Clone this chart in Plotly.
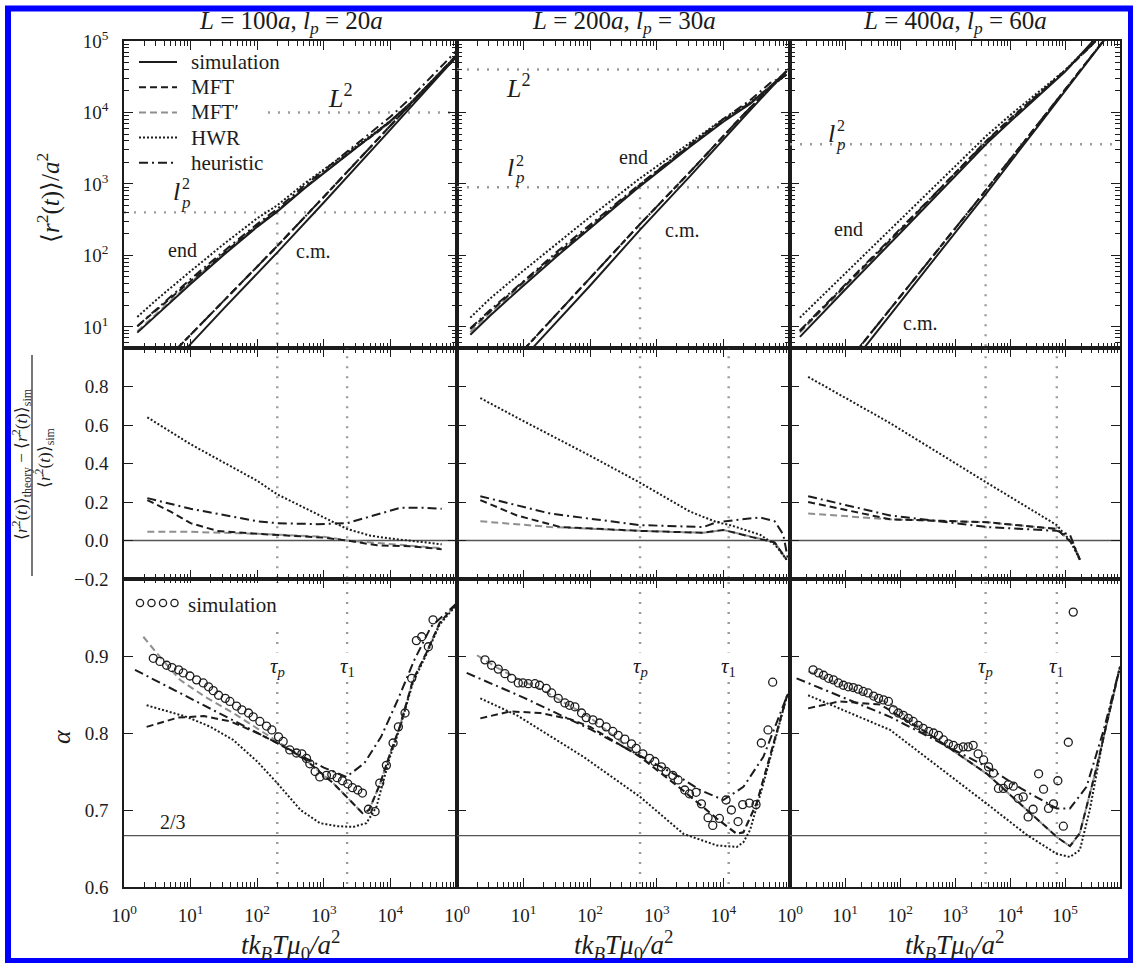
import numpy as np
import plotly.graph_objects as go
from plotly.subplots import make_subplots

W, H = 1133, 963
ML, MR, MT, MB = 124, 13, 41, 76

SERIF = "Liberation Serif"
INK = "#1c1c1c"
GREY = "#8f8f8f"
REF = "#9a9a9a"

# ---------------- panel parameters (units of a, k_B T mu_0 / a^2) ----------------
chain_L = [100, 200, 400]
persist_lp = [20, 30, 60]
tau_p = [200, 560, 3600]
tau_1 = [2240, 12000, 71000]

# ---------------- top row: mean-square displacement, log10 values ----------------
# column 1 (L = 100a)
end1_lt = [0.2, 0.5, 1.0, 1.5, 2.0, 2.3, 2.7, 3.0, 3.5, 3.8, 4.0, 4.3, 4.6, 5.0]
end1_sim = [0.92, 1.18, 1.60, 2.01, 2.40, 2.61, 2.93, 3.15, 3.52, 3.73, 3.88, 4.13, 4.42, 4.80]
end1_mft = [1.01, 1.25, 1.64, 2.03, 2.42, 2.62, 2.94, 3.16, 3.52, 3.72, 3.87, 4.12, 4.40, 4.78]
end1_mftp = [0.94, 1.20, 1.62, 2.03, 2.42, 2.62, 2.94, 3.16, 3.52, 3.72, 3.87, 4.12, 4.41, 4.78]
end1_hwr = [1.14, 1.39, 1.78, 2.16, 2.52, 2.70, 3.00, 3.20, 3.54, 3.74, 3.88, 4.13, 4.42, 4.79]
end1_heur = [1.01, 1.26, 1.67, 2.06, 2.44, 2.65, 2.97, 3.19, 3.57, 3.79, 3.94, 4.20, 4.49, 4.87]
cm1_sim_lt = [0.96, 1.5, 2.3, 3.0, 4.0, 5.0]
cm1_sim = [0.72, 1.26, 2.04, 2.74, 3.76, 4.79]
cm1_th_lt = [0.8, 1.5, 2.3, 3.0, 4.0, 5.0]
cm1_th = [0.70, 1.37, 2.13, 2.82, 3.82, 4.81]

# column 2 (L = 200a)
end2_lt = [0.2, 0.5, 1.0, 1.5, 2.0, 2.75, 3.5, 4.0, 4.4, 4.7, 4.95]
end2_sim = [0.89, 1.16, 1.58, 1.99, 2.38, 2.97, 3.52, 3.87, 4.12, 4.36, 4.58]
end2_mft = [0.97, 1.22, 1.63, 2.02, 2.40, 2.99, 3.54, 3.89, 4.13, 4.36, 4.53]
end2_mftp = [0.93, 1.20, 1.61, 2.02, 2.40, 2.99, 3.54, 3.89, 4.13, 4.36, 4.53]
end2_hwr = [1.13, 1.40, 1.79, 2.17, 2.54, 3.08, 3.58, 3.91, 4.14, 4.36, 4.53]
end2_heur = [0.98, 1.24, 1.64, 2.05, 2.43, 3.00, 3.55, 3.91, 4.17, 4.41, 4.53]
cm2_sim_lt = [1.15, 2.0, 2.75, 3.5, 4.3, 4.95]
cm2_sim = [0.72, 1.58, 2.36, 3.11, 3.93, 4.58]
cm2_th_lt = [1.0, 2.0, 2.75, 3.5, 4.3, 4.95]
cm2_th = [0.68, 1.68, 2.44, 3.17, 3.97, 4.58]

# column 3 (L = 400a)
end3_lt = [0.18, 0.5, 1.0, 2.0, 3.0, 3.58, 4.0, 4.67, 5.0, 5.51, 5.8]
end3_sim = [0.86, 1.12, 1.52, 2.31, 3.11, 3.57, 3.87, 4.33, 4.57, 5.00, 5.25]
end3_mft = [0.94, 1.19, 1.58, 2.35, 3.15, 3.61, 3.91, 4.36, 4.58, 4.96, 5.21]
end3_mftp = [0.92, 1.17, 1.57, 2.35, 3.15, 3.61, 3.91, 4.36, 4.58, 4.96, 5.21]
end3_hwr = [1.13, 1.37, 1.75, 2.50, 3.25, 3.68, 3.96, 4.38, 4.59, 4.98, 5.22]
end3_heur = [0.95, 1.20, 1.59, 2.36, 3.15, 3.60, 3.90, 4.35, 4.59, 4.96, 5.21]
cm3_sim_lt = [1.3, 2.5, 3.58, 4.5, 5.2, 5.8]
cm3_sim = [0.66, 1.82, 2.88, 3.80, 4.50, 5.10]
cm3_th_lt = [1.1, 2.5, 3.58, 4.5, 5.2, 5.8]
cm3_th = [0.56, 1.90, 2.93, 3.83, 4.52, 5.10]

# ---------------- middle row: relative deviation from simulation ----------------
dev1_hwr_lt = [0.35, 1.0, 2.0, 2.3, 3.0, 3.35, 3.7, 4.0, 4.4, 4.77]
dev1_hwr = [0.64, 0.50, 0.31, 0.24, 0.12, 0.06, 0.025, 0.01, -0.005, -0.02]
dev1_mft_lt = [0.35, 0.7, 1.0, 1.4, 2.0, 2.3, 3.0, 3.35, 3.8, 4.3, 4.77]
dev1_mft = [0.21, 0.15, 0.09, 0.05, 0.035, 0.03, 0.015, 0.0, -0.025, -0.03, -0.045]
dev1_mftp_lt = [0.35, 1.0, 2.0, 3.0, 3.35, 4.0, 4.77]
dev1_mftp = [0.045, 0.045, 0.035, 0.02, 0.0, -0.02, -0.04]
dev1_heur_lt = [0.35, 1.0, 2.0, 2.3, 2.9, 3.35, 3.65, 4.15, 4.5, 4.77]
dev1_heur = [0.22, 0.165, 0.10, 0.09, 0.085, 0.09, 0.12, 0.17, 0.17, 0.165]

dev2_hwr_lt = [0.35, 1.0, 2.0, 2.75, 3.5, 3.9, 4.1, 4.55, 4.77, 4.95]
dev2_hwr = [0.74, 0.62, 0.44, 0.30, 0.15, 0.095, 0.08, 0.03, -0.02, -0.10]
dev2_mft_lt = [0.35, 0.9, 1.55, 2.75, 3.7, 4.0, 4.4, 4.77, 4.95]
dev2_mft = [0.21, 0.13, 0.07, 0.05, 0.04, 0.055, 0.02, -0.01, -0.10]
dev2_mftp_lt = [0.35, 1.4, 2.75, 3.7, 4.0, 4.4, 4.77, 4.95]
dev2_mftp = [0.10, 0.07, 0.05, 0.04, 0.055, 0.02, -0.01, -0.10]
dev2_heur_lt = [0.35, 1.4, 2.75, 3.7, 3.9, 4.55, 4.77, 4.9, 4.97]
dev2_heur = [0.23, 0.14, 0.08, 0.07, 0.095, 0.12, 0.10, 0.03, -0.10]

dev3_hwr_lt = [0.33, 1.82, 3.58, 4.85, 5.09, 5.27]
dev3_hwr = [0.85, 0.61, 0.30, 0.08, 0.0, -0.10]
dev3_mft_lt = [0.33, 1.82, 3.58, 4.85, 5.15, 5.27]
dev3_mft = [0.20, 0.11, 0.095, 0.06, -0.02, -0.10]
dev3_mftp_lt = [0.33, 1.82, 3.58, 4.85, 5.15, 5.27]
dev3_mftp = [0.14, 0.11, 0.095, 0.06, -0.02, -0.10]
dev3_heur_lt = [0.33, 1.82, 3.58, 4.85, 5.09, 5.27]
dev3_heur = [0.23, 0.13, 0.07, 0.05, 0.03, -0.10]

# ---------------- bottom row: local exponent alpha ----------------
a1_sim_lt = [0.44, 0.54, 0.64, 0.72, 0.82, 0.89, 0.99, 1.09, 1.19, 1.27,
             1.34, 1.42, 1.52, 1.59, 1.69, 1.77, 1.87, 1.94, 2.04, 2.14,
             2.22, 2.32, 2.39, 2.49, 2.59, 2.67, 2.74, 2.79, 2.87, 2.94,
             3.04, 3.12, 3.20, 3.28, 3.36, 3.43, 3.51, 3.58, 3.67, 3.77,
             3.84, 3.94, 4.04, 4.12, 4.22, 4.32, 4.39, 4.47, 4.57, 4.64]
a1_sim = [0.897, 0.893, 0.888, 0.885, 0.882, 0.878, 0.874, 0.869, 0.865, 0.860,
          0.855, 0.849, 0.845, 0.841, 0.835, 0.830, 0.826, 0.821, 0.815, 0.809,
          0.804, 0.795, 0.789, 0.778, 0.774, 0.773, 0.767, 0.760, 0.750, 0.743,
          0.745, 0.746, 0.742, 0.738, 0.734, 0.729, 0.726, 0.722, 0.701, 0.698,
          0.735, 0.758, 0.787, 0.808, 0.826, 0.871, 0.920, 0.925, 0.912, 0.947]
a1_mftp_lt = [0.29, 0.48, 0.84, 1.2, 1.64, 2.0, 2.3, 2.7, 3.14, 3.4, 3.58, 3.68,
              3.84, 3.99, 4.14, 4.34, 4.54, 4.74, 4.99]
a1_mftp = [0.925, 0.905, 0.869, 0.848, 0.826, 0.806, 0.790, 0.767, 0.735, 0.712, 0.696, 0.700,
           0.733, 0.772, 0.808, 0.869, 0.904, 0.943, 0.968]
a1_mft_lt = [0.34, 0.81, 1.2, 1.6, 2.0, 2.3, 2.7, 3.14, 3.4, 3.58, 3.68, 3.84, 3.99,
             4.14, 4.34, 4.54, 4.74, 4.99]
a1_mft = [0.808, 0.820, 0.822, 0.815, 0.800, 0.787, 0.767, 0.735, 0.712, 0.696, 0.700, 0.733,
          0.772, 0.808, 0.869, 0.904, 0.943, 0.968]
a1_heur_lt = [0.165, 1.0, 2.3, 3.0, 3.34, 3.61, 3.86, 4.11, 4.36, 4.61, 4.99]
a1_heur = [0.882, 0.845, 0.787, 0.755, 0.743, 0.761, 0.795, 0.843, 0.895, 0.938, 0.968]
a1_hwr_lt = [0.34, 0.94, 1.3, 1.64, 2.0, 2.3, 2.65, 2.94, 3.2, 3.44, 3.64, 3.79, 3.99, 4.14,
             4.34, 4.54, 4.74, 4.99]
a1_hwr = [0.836, 0.821, 0.808, 0.791, 0.763, 0.735, 0.700, 0.683, 0.679, 0.678, 0.683, 0.704,
          0.768, 0.806, 0.866, 0.902, 0.941, 0.966]

a2_sim_lt = [0.42, 0.52, 0.62, 0.72, 0.82, 0.92, 0.99, 1.07, 1.17, 1.24,
             1.34, 1.42, 1.52, 1.62, 1.69, 1.77, 1.87, 1.94, 2.04, 2.14,
             2.24, 2.34, 2.42, 2.52, 2.62, 2.69, 2.79, 2.89, 2.97, 3.07,
             3.14, 3.24, 3.32, 3.42, 3.49, 3.59, 3.67, 3.77, 3.84, 3.94,
             4.04, 4.12, 4.22, 4.29, 4.39, 4.49, 4.57, 4.67, 4.74]
a2_sim = [0.895, 0.888, 0.883, 0.877, 0.871, 0.865, 0.865, 0.864, 0.864, 0.862,
          0.858, 0.852, 0.845, 0.839, 0.836, 0.834, 0.826, 0.820, 0.817, 0.813,
          0.808, 0.802, 0.797, 0.792, 0.786, 0.780, 0.773, 0.767, 0.763, 0.756,
          0.750, 0.745, 0.739, 0.726, 0.721, 0.723, 0.708, 0.690, 0.680, 0.689,
          0.713, 0.700, 0.685, 0.707, 0.709, 0.707, 0.787, 0.804, 0.866]
a2_mftp_lt = [0.30, 0.6, 0.9, 1.3, 1.7, 2.0, 2.75, 3.4, 3.9, 4.2, 4.3, 4.5, 4.7, 4.95, 5.0]
a2_mftp = [0.901, 0.885, 0.871, 0.855, 0.835, 0.820, 0.769, 0.725, 0.689, 0.669, 0.671, 0.709,
           0.769, 0.847, 0.855]
a2_mft_lt = [0.35, 0.8, 1.25, 1.7, 2.0, 2.75, 3.4, 3.9, 4.2, 4.3, 4.5, 4.7, 4.95, 5.0]
a2_mft = [0.819, 0.828, 0.826, 0.818, 0.808, 0.769, 0.725, 0.689, 0.669, 0.671, 0.709, 0.769,
          0.847, 0.855]
a2_heur_lt = [0.145, 1.0, 2.0, 2.75, 3.3, 3.65, 4.0, 4.3, 4.6, 4.95, 5.0]
a2_heur = [0.878, 0.846, 0.805, 0.771, 0.745, 0.726, 0.713, 0.730, 0.769, 0.847, 0.855]
a2_hwr_lt = [0.35, 0.9, 1.9, 2.75, 3.4, 3.9, 4.2, 4.3, 4.4, 4.6, 4.95]
a2_hwr = [0.845, 0.823, 0.769, 0.717, 0.669, 0.654, 0.652, 0.658, 0.674, 0.734, 0.847]

a3_sim_lt = [0.42, 0.52, 0.61, 0.70, 0.79, 0.88, 0.97, 1.06, 1.15, 1.24,
             1.33, 1.42, 1.52, 1.61, 1.70, 1.79, 1.88, 1.97, 2.06, 2.15,
             2.24, 2.33, 2.42, 2.52, 2.61, 2.70, 2.79, 2.88, 2.97, 3.06,
             3.15, 3.24, 3.33, 3.42, 3.52, 3.61, 3.70, 3.79, 3.88, 3.97,
             4.06, 4.15, 4.24, 4.33, 4.42, 4.52, 4.61, 4.70, 4.79, 4.87,
             4.97, 5.06, 5.15]
a3_sim = [0.882, 0.878, 0.875, 0.871, 0.869, 0.865, 0.862, 0.860, 0.859, 0.857,
          0.854, 0.852, 0.848, 0.845, 0.843, 0.841, 0.830, 0.826, 0.823, 0.819,
          0.815, 0.810, 0.806, 0.802, 0.800, 0.797, 0.791, 0.786, 0.784, 0.780,
          0.782, 0.782, 0.784, 0.773, 0.765, 0.756, 0.748, 0.728, 0.728, 0.733,
          0.731, 0.715, 0.717, 0.691, 0.701, 0.747, 0.727, 0.702, 0.708, 0.738,
          0.679, 0.788, 0.957]
a3_mftp_lt = [0.33, 0.8, 1.3, 1.82, 2.5, 3.58, 4.2, 4.85, 5.09, 5.27, 5.58, 6.0]
a3_mftp = [0.880, 0.866, 0.852, 0.838, 0.800, 0.747, 0.707, 0.665, 0.653, 0.670, 0.757, 0.886]
a3_mft_lt = [0.33, 0.9, 1.64, 2.5, 3.58, 4.2, 4.85, 5.09, 5.27, 5.58, 6.0]
a3_mft = [0.832, 0.841, 0.837, 0.800, 0.747, 0.707, 0.665, 0.653, 0.670, 0.757, 0.886]
a3_heur_lt = [0.12, 1.82, 3.58, 4.2, 4.85, 5.09, 5.39, 5.7, 6.0]
a3_heur = [0.871, 0.821, 0.756, 0.728, 0.702, 0.702, 0.730, 0.803, 0.886]
a3_hwr_lt = [0.33, 1.82, 3.58, 4.3, 4.85, 5.09, 5.27, 5.45, 5.7, 6.0]
a3_hwr = [0.849, 0.804, 0.708, 0.668, 0.643, 0.639, 0.648, 0.700, 0.795, 0.886]

ALPHA_ROUSE = 2.0 / 3.0

# ---------------- figure ----------------
fig = make_subplots(rows=3, cols=3, horizontal_spacing=0, vertical_spacing=0,
                    column_widths=[333, 333, 330], row_heights=[307, 231, 308])


def pw(v):
    return np.power(10.0, np.asarray(v, dtype=float))


LW = 2.0
STY = {
    "sim": dict(color=INK, width=LW, dash="solid"),
    "mft": dict(color=INK, width=LW, dash="7px,4px"),
    "mftp": dict(color=GREY, width=LW, dash="7px,4px"),
    "hwr": dict(color=INK, width=LW, dash="2px,2px"),
    "heur": dict(color=INK, width=LW, dash="9px,4px,2px,4px"),
}


def curve(row, col, x, y, key):
    fig.add_trace(go.Scatter(x=x, y=y, mode="lines", line=STY[key],
                             showlegend=False, hoverinfo="skip"), row=row, col=col)


def guide(row, col, x, y, solid=False):
    ln = dict(color="#555555", width=1.3) if solid else dict(color=REF, width=2.4, dash="2px,8px")
    fig.add_trace(go.Scatter(x=x, y=y, mode="lines", line=ln,
                             showlegend=False, hoverinfo="skip"), row=row, col=col)


top = [
    (end1_lt, end1_sim, end1_mft, end1_mftp, end1_hwr, end1_heur, cm1_sim_lt, cm1_sim, cm1_th_lt, cm1_th),
    (end2_lt, end2_sim, end2_mft, end2_mftp, end2_hwr, end2_heur, cm2_sim_lt, cm2_sim, cm2_th_lt, cm2_th),
    (end3_lt, end3_sim, end3_mft, end3_mftp, end3_hwr, end3_heur, cm3_sim_lt, cm3_sim, cm3_th_lt, cm3_th),
]
mid = [
    ((dev1_hwr_lt, dev1_hwr), (dev1_mft_lt, dev1_mft), (dev1_mftp_lt, dev1_mftp), (dev1_heur_lt, dev1_heur)),
    ((dev2_hwr_lt, dev2_hwr), (dev2_mft_lt, dev2_mft), (dev2_mftp_lt, dev2_mftp), (dev2_heur_lt, dev2_heur)),
    ((dev3_hwr_lt, dev3_hwr), (dev3_mft_lt, dev3_mft), (dev3_mftp_lt, dev3_mftp), (dev3_heur_lt, dev3_heur)),
]
bot = [
    ((a1_sim_lt, a1_sim), (a1_mftp_lt, a1_mftp), (a1_mft_lt, a1_mft), (a1_heur_lt, a1_heur), (a1_hwr_lt, a1_hwr)),
    ((a2_sim_lt, a2_sim), (a2_mftp_lt, a2_mftp), (a2_mft_lt, a2_mft), (a2_heur_lt, a2_heur), (a2_hwr_lt, a2_hwr)),
    ((a3_sim_lt, a3_sim), (a3_mftp_lt, a3_mftp), (a3_mft_lt, a3_mft), (a3_heur_lt, a3_heur), (a3_hwr_lt, a3_hwr)),
]

for i in range(3):
    c = i + 1
    L2 = chain_L[i] ** 2
    lp2 = persist_lp[i] ** 2

    # --- top: MSD of end monomer and centre of mass ---
    e_lt, e_sim, e_mft, e_mftp, e_hwr, e_heur, c_lt, c_sim, ct_lt, c_th = top[i]
    guide(1, c, [145 if i == 0 else 1, 1e7], [L2, L2])
    guide(1, c, [1, 1e7], [lp2, lp2])
    guide(1, c, [tau_p[i], tau_p[i]], [lp2, 1])
    curve(1, c, pw(e_lt), pw(e_mftp), "mftp")
    curve(1, c, pw(e_lt), pw(e_mft), "mft")
    curve(1, c, pw(e_lt), pw(e_hwr), "hwr")
    curve(1, c, pw(e_lt), pw(e_heur), "heur")
    curve(1, c, pw(e_lt), pw(e_sim), "sim")
    curve(1, c, pw(ct_lt), pw(c_th), "mftp")
    curve(1, c, pw(ct_lt), pw(c_th), "mft")
    curve(1, c, pw(ct_lt), pw(c_th), "heur")
    curve(1, c, pw(c_lt), pw(c_sim), "sim")

    # --- middle: relative deviation ---
    guide(2, c, [tau_p[i], tau_p[i]], [-0.3, 1.1])
    guide(2, c, [tau_1[i], tau_1[i]], [-0.3, 1.1])
    guide(2, c, [1, 1e7], [0, 0], solid=True)
    (h_lt, h_v), (m_lt, m_v), (p_lt, p_v), (u_lt, u_v) = mid[i]
    curve(2, c, pw(p_lt), p_v, "mftp")
    curve(2, c, pw(m_lt), m_v, "mft")
    curve(2, c, pw(h_lt), h_v, "hwr")
    curve(2, c, pw(u_lt), u_v, "heur")

    # --- bottom: local exponent ---
    guide(3, c, [tau_p[i], tau_p[i]], [0.5, 1.1])
    guide(3, c, [tau_1[i], tau_1[i]], [0.5, 1.1])
    guide(3, c, [1, 1e7], [ALPHA_ROUSE, ALPHA_ROUSE], solid=True)
    (s_lt, s_v), (p_lt, p_v), (m_lt, m_v), (u_lt, u_v), (h_lt, h_v) = bot[i]
    curve(3, c, pw(p_lt), p_v, "mftp")
    curve(3, c, pw(m_lt), m_v, "mft")
    curve(3, c, pw(u_lt), u_v, "heur")
    curve(3, c, pw(h_lt), h_v, "hwr")
    fig.add_trace(go.Scatter(x=pw(s_lt), y=s_v, mode="markers",
                             marker=dict(symbol="circle-open", size=8, color=INK,
                                         line=dict(width=1.3, color=INK)),
                             showlegend=False, hoverinfo="skip"), row=3, col=c)

# ---------------- axes ----------------
base = dict(showline=True, linecolor=INK, linewidth=1.6, mirror="allticks",
            ticks="inside", ticklen=9, tickwidth=1.4, tickcolor=INK,
            showgrid=False, zeroline=False,
            tickfont=dict(family=SERIF, size=19, color=INK))


def minor_log(kmin, kmax):
    vals = [m * 10.0 ** k for k in range(kmin, kmax) for m in range(2, 10)]
    return dict(tickmode="array", tickvals=vals, ticks="inside", ticklen=5,
                tickwidth=1.1, tickcolor=INK, showgrid=False)


def sup10(k):
    return f"10<sup>{k}</sup>"


for r in (1, 2, 3):
    for c in (1, 2, 3):
        kmax = 6 if c == 3 else 5
        tv = [10.0 ** k for k in range(kmax + 1)]
        tt = [sup10(k) for k in range(kmax + 1)]
        if c != 3:
            tt[-1] = ""
        fig.update_xaxes(base, type="log", range=[0, kmax], tickmode="array",
                         tickvals=tv, ticktext=tt, showticklabels=(r == 3),
                         ticklabelstandoff=10, minor=minor_log(0, kmax), row=r, col=c)

        if r == 1:
            fig.update_yaxes(base, type="log", range=[0.705, 5], tickmode="array",
                             tickvals=[10.0 ** k for k in range(1, 6)],
                             ticktext=[sup10(k) for k in range(1, 6)],
                             showticklabels=(c == 1), ticklabelstandoff=10,
                             minor=minor_log(0, 5), row=r, col=c)
        elif r == 2:
            fig.update_yaxes(base, range=[-0.2, 1.0], tickmode="array",
                             tickvals=[-0.2, 0.0, 0.2, 0.4, 0.6, 0.8],
                             ticktext=["\u22120.2", "0.0", "0.2", "0.4", "0.6", "0.8"],
                             showticklabels=(c == 1), ticklabelstandoff=10, row=r, col=c)
        else:
            fig.update_yaxes(base, range=[0.6, 1.0], tickmode="array",
                             tickvals=[0.6, 0.7, 0.8, 0.9],
                             ticktext=["0.6", "0.7", "0.8", "0.9"],
                             showticklabels=(c == 1), ticklabelstandoff=10, row=r, col=c)


# ---------------- text and decorations ----------------
PW_ = W - ML - MR
PH_ = H - MT - MB


def fx(px):
    return (px - ML) / PW_


def fy(py):
    return (H - MB - py) / PH_


def label(px, py, text, size=19, angle=0, xanchor="center", yanchor="middle", bg=None):
    fig.add_annotation(x=fx(px), y=fy(py), xref="paper", yref="paper", text=text,
                       showarrow=False, textangle=angle, xanchor=xanchor, yanchor=yanchor,
                       font=dict(family=SERIF, size=size, color=INK),
                       bgcolor=bg, borderpad=0)


col_centres = [290.5, 623.5, 955]
for i in range(3):
    label(col_centres[i], 22,
          f"<i>L</i> = {chain_L[i]}<i>a</i>, <i>l</i><sub><i>p</i></sub> = {persist_lp[i]}<i>a</i>",
          size=25)
    label(col_centres[i], 945,
          "<i>tk</i><sub><i>B</i></sub><i>T\u03bc</i><sub>0</sub><i>/a</i><sup>2</sup>", size=27)

# y-axis titles
label(48, 198, "\u27e8<i>r</i><sup>2</sup>(<i>t</i>)\u27e9/<i>a</i><sup>2</sup>", size=25, angle=-90)
label(61, 737, "<i>\u03b1</i>", size=26, angle=-90)
label(21, 464, "\u27e8<i>r</i><sup>2</sup>(<i>t</i>)\u27e9<sub>theory</sub> \u2212 "
               "\u27e8<i>r</i><sup>2</sup>(<i>t</i>)\u27e9<sub>sim</sub>", size=17, angle=-90)
label(44, 458, "\u27e8<i>r</i><sup>2</sup>(<i>t</i>)\u27e9<sub>sim</sub>", size=17, angle=-90)
fig.add_shape(type="line", xref="paper", yref="paper", x0=fx(32), x1=fx(32),
              y0=fy(355), y1=fy(576), line=dict(color=INK, width=1.2))

# top-row region labels
label(340, 97, "<i>L</i><sup>2</sup>", size=26)
label(518, 87, "<i>L</i><sup>2</sup>", size=26)
for (lx, ly) in [(176, 191), (510, 167), (831, 133)]:
    label(lx, ly, "<i>l</i>", size=26)
    label(lx + 10, ly - 7, "2", size=16)
    label(lx + 10, ly + 11, "<i>p</i>", size=17)
for (ex, ey, cx, cy) in [(182, 250, 313, 251), (633, 157, 682, 230), (848, 229, 920, 323)]:
    label(ex, ey, "end", size=20)
    label(cx, cy, "c.m.", size=20)

# tau markers in the exponent panels
for i in range(3):
    xa = f"x{7 + i}"
    ya = f"y{7 + i}"
    for tau, txt in [(tau_p[i], "<i>\u03c4</i><sub><i>p</i></sub>"), (tau_1[i], "<i>\u03c4</i><sub>1</sub>")]:
        fig.add_annotation(x=np.log10(tau), y=0.886, xref=xa, yref=ya, text=txt,
                           showarrow=False, bgcolor="white", borderpad=1,
                           font=dict(family=SERIF, size=21, color=INK))
label(173, 822, "2/3", size=20)

# legend of the MSD panels
legend_rows = [("simulation", "sim"), ("MFT", "mft"), ("MFT\u2032", "mftp"),
               ("HWR", "hwr"), ("heuristic", "heur")]
for k, (name, key) in enumerate(legend_rows):
    py = 62 + 25.2 * k
    st = STY[key]
    fig.add_shape(type="line", xref="paper", yref="paper", x0=fx(139), x1=fx(177),
                  y0=fy(py), y1=fy(py), line=dict(color=st["color"], width=st["width"], dash=st["dash"]))
    label(190, py, name, size=21, xanchor="left")

# legend of the exponent panels
fig.add_shape(type="rect", xref="paper", yref="paper", x0=fx(129), x1=fx(293),
              y0=fy(625), y1=fy(583), fillcolor="white", line=dict(width=0), layer="above")
for cxp in [140, 151.5, 163, 174.5]:
    fig.add_shape(type="circle", xref="paper", yref="paper", xsizemode="pixel", ysizemode="pixel",
                  xanchor=fx(cxp), yanchor=fy(603), x0=-3.6, x1=3.6, y0=-3.6, y1=3.6,
                  line=dict(color=INK, width=1.3), layer="above")
label(187, 605, "simulation", size=21, xanchor="left")

# blue frame
fig.add_shape(type="rect", xref="paper", yref="paper", x0=fx(8), x1=fx(1131),
              y0=fy(961), y1=fy(8.5), line=dict(color="#0000ff", width=6), layer="above")

fig.update_layout(width=W, height=H, margin=dict(l=ML, r=MR, t=MT, b=MB),
                  paper_bgcolor="white", plot_bgcolor="white", showlegend=False,
                  font=dict(family=SERIF, color=INK))

fig.write_html("out.html")
